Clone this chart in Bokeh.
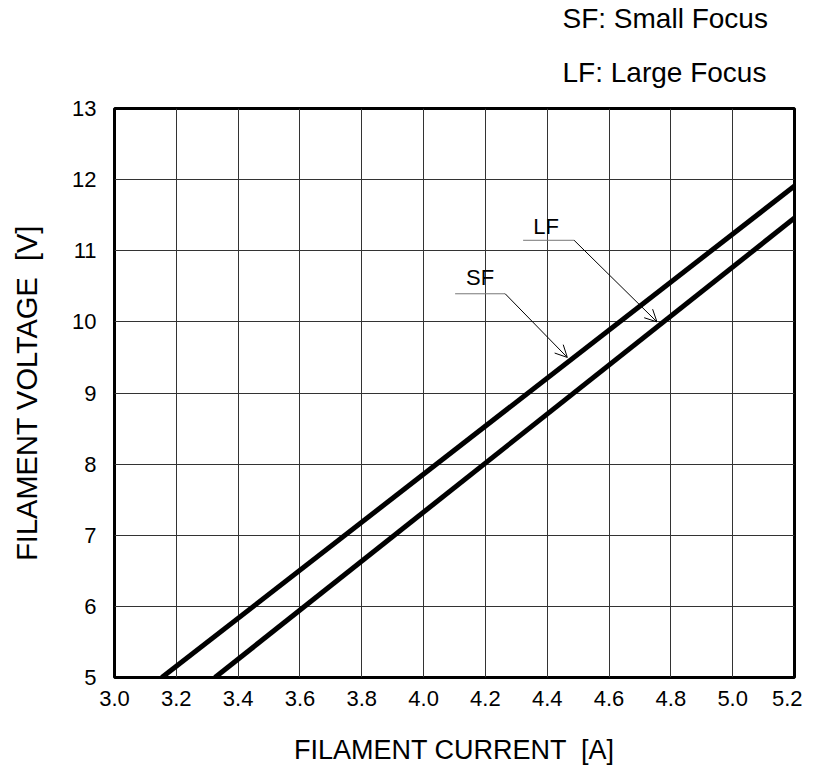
from bokeh.plotting import figure
from bokeh.models import (FixedTicker, NumeralTickFormatter, Label, Arrow, OpenHead,
                          Range1d, Title)
from bokeh.embed import file_html
from bokeh.resources import INLINE

# ---- data ----
sf_current = [3.153, 5.20]          # A
sf_voltage = [5.00, 11.91]          # V
lf_current = [3.325, 5.20]
lf_voltage = [5.00, 11.46]

x_ticks = [3.0, 3.2, 3.4, 3.6, 3.8, 4.0, 4.2, 4.4, 4.6, 4.8, 5.0, 5.2]
y_ticks = [5, 6, 7, 8, 9, 10, 11, 12, 13]

# leader annotations: label position, underline start/end, arrow tip
sf_label = ("SF", 4.183, 10.62)
sf_under = (4.102, 4.264, 10.395)
sf_tip = (4.465, 9.50)
lf_label = ("LF", 4.396, 11.34)
lf_under = (4.322, 4.487, 11.147)
lf_tip = (4.755, 10.00)

legend_lines = ["SF: Small Focus", "LF: Large Focus"]

FONT = "Liberation Sans"

p = figure(width=802, height=767, output_backend="svg", toolbar_location=None,
           x_range=Range1d(3.0, 5.2), y_range=Range1d(5, 13),
           min_border_left=114, min_border_right=8, min_border_top=107,
           min_border_bottom=89, title=None)
p.background_fill_color = "white"
p.border_fill_color = "white"
p.outline_line_color = "black"
p.outline_line_width = 3

for ax in (p.xaxis, p.yaxis):
    ax.axis_line_color = None
    ax.major_tick_line_color = None
    ax.minor_tick_line_color = None
    ax.major_label_text_font = FONT
    ax.major_label_text_font_size = "22px"
    ax.major_label_text_color = "black"
    ax.axis_label_text_font = FONT
    ax.axis_label_text_font_style = "normal"
    ax.axis_label_text_color = "black"

p.xaxis.axis_label_text_font_size = "27px"
p.yaxis.axis_label_text_font_size = "29px"
p.xaxis.ticker = FixedTicker(ticks=x_ticks)
p.yaxis.ticker = FixedTicker(ticks=y_ticks)
p.xaxis.formatter = NumeralTickFormatter(format="0.0")
p.yaxis.formatter = NumeralTickFormatter(format="0")
p.xaxis.axis_label = "FILAMENT CURRENT \u00a0[A]"
p.yaxis.axis_label = "FILAMENT VOLTAGE \u00a0[V]"
p.xaxis.major_label_standoff = 7
p.yaxis.major_label_standoff = 12
p.xaxis.axis_label_standoff = 26
p.yaxis.axis_label_standoff = 26

p.xgrid.ticker = FixedTicker(ticks=x_ticks)
p.ygrid.ticker = FixedTicker(ticks=y_ticks)
for g in (p.xgrid, p.ygrid):
    g.grid_line_color = "#333333"
    g.grid_line_width = 1

p.line(sf_current, sf_voltage, line_color="black", line_width=5)
p.line(lf_current, lf_voltage, line_color="black", line_width=5)

for (txt, lx, ly), (u0, u1, uy), (tx, ty) in [(sf_label, sf_under, sf_tip),
                                              (lf_label, lf_under, lf_tip)]:
    p.add_layout(Label(x=lx, y=ly, text=txt, text_align="center",
                       text_baseline="middle", text_font=FONT,
                       text_font_size="22px", text_color="black"))
    p.segment(x0=[u0], y0=[uy], x1=[u1], y1=[uy], line_color="#777777", line_width=1)
    p.add_layout(Arrow(x_start=u1, y_start=uy, x_end=tx, y_end=ty,
                       line_color="black", line_width=1,
                       end=OpenHead(size=12, line_width=1, line_color="black")))

# notes above the plot (as titles); first added is nearest the frame
for t, so in zip(reversed(legend_lines), [42, 0]):
    p.add_layout(Title(text=t, align="left", offset=448, text_font=FONT,
                       text_font_size="28px", text_font_style="normal",
                       text_color="black", standoff=so), "above")

open("out.html", "w").write(file_html(p, INLINE))
